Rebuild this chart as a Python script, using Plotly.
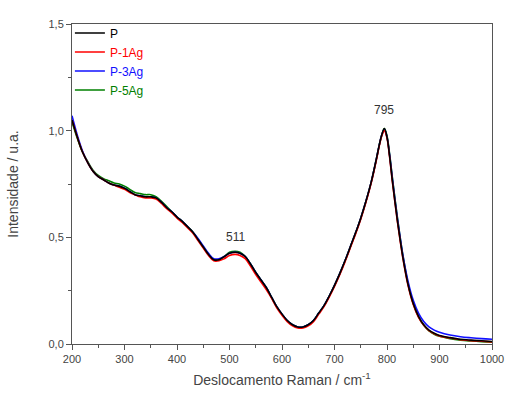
import plotly.graph_objects as go

raman_shift = [200, 210, 220, 230, 240, 250, 260, 270, 280, 290, 300, 310, 320, 330, 340, 350,
               360, 370, 380, 390, 400, 410, 420, 430, 440, 450, 460, 470, 480, 490, 500, 511,
               520, 530, 540, 550, 560, 570, 580, 590, 600, 610, 620, 630, 640, 650, 660, 670,
               680, 690, 700, 710, 720, 730, 740, 750, 760, 770, 780, 785, 790, 795, 800, 805,
               810, 815, 820, 825, 830, 840, 850, 860, 870, 880, 890, 900, 920, 940, 960, 980, 1000]

int_P = [1.05, 0.97, 0.90, 0.85, 0.81, 0.785, 0.77, 0.755, 0.745, 0.74, 0.73, 0.715, 0.70, 0.695, 0.69, 0.69,
         0.685, 0.665, 0.64, 0.62, 0.595, 0.575, 0.55, 0.525, 0.49, 0.455, 0.42, 0.395, 0.395, 0.41, 0.425, 0.43,
         0.425, 0.41, 0.375, 0.335, 0.30, 0.265, 0.22, 0.175, 0.14, 0.11, 0.09, 0.08, 0.08, 0.09, 0.11, 0.145,
         0.18, 0.225, 0.275, 0.33, 0.39, 0.455, 0.52, 0.59, 0.67, 0.76, 0.87, 0.93, 0.98, 1.01, 0.97, 0.88,
         0.77, 0.67, 0.575, 0.49, 0.41, 0.28, 0.19, 0.13, 0.09, 0.065, 0.05, 0.04, 0.03, 0.022, 0.018, 0.015, 0.012]

int_P1Ag = [1.05, 0.97, 0.90, 0.85, 0.81, 0.785, 0.77, 0.755, 0.745, 0.735, 0.725, 0.71, 0.70, 0.69, 0.685, 0.685,
            0.68, 0.66, 0.635, 0.615, 0.59, 0.57, 0.545, 0.52, 0.485, 0.45, 0.415, 0.39, 0.39, 0.40, 0.415, 0.42,
            0.415, 0.40, 0.365, 0.325, 0.29, 0.255, 0.215, 0.17, 0.135, 0.105, 0.085, 0.075, 0.075, 0.085, 0.105, 0.14,
            0.175, 0.22, 0.27, 0.325, 0.385, 0.45, 0.515, 0.585, 0.665, 0.755, 0.865, 0.925, 0.975, 1.0, 0.965, 0.875,
            0.765, 0.665, 0.57, 0.485, 0.405, 0.275, 0.185, 0.125, 0.088, 0.063, 0.048, 0.038, 0.028, 0.02, 0.016, 0.013, 0.01]

int_P3Ag = [1.07, 0.98, 0.905, 0.85, 0.81, 0.785, 0.77, 0.755, 0.745, 0.74, 0.73, 0.715, 0.70, 0.695, 0.69, 0.69,
            0.685, 0.665, 0.64, 0.62, 0.595, 0.575, 0.55, 0.525, 0.495, 0.46, 0.425, 0.40, 0.40, 0.41, 0.425, 0.43,
            0.425, 0.41, 0.375, 0.335, 0.30, 0.265, 0.22, 0.175, 0.14, 0.11, 0.09, 0.08, 0.08, 0.09, 0.11, 0.145,
            0.18, 0.225, 0.275, 0.33, 0.39, 0.455, 0.52, 0.59, 0.67, 0.76, 0.87, 0.93, 0.98, 1.005, 0.97, 0.885,
            0.78, 0.68, 0.585, 0.50, 0.42, 0.295, 0.205, 0.145, 0.105, 0.08, 0.065, 0.055, 0.042, 0.034, 0.029, 0.025, 0.022]

int_P5Ag = [1.04, 0.965, 0.90, 0.855, 0.815, 0.79, 0.775, 0.765, 0.755, 0.75, 0.74, 0.725, 0.71, 0.705, 0.70, 0.70,
            0.69, 0.67, 0.645, 0.62, 0.595, 0.575, 0.55, 0.525, 0.49, 0.455, 0.42, 0.395, 0.395, 0.41, 0.43, 0.435,
            0.43, 0.41, 0.375, 0.335, 0.30, 0.265, 0.22, 0.175, 0.14, 0.11, 0.09, 0.08, 0.08, 0.09, 0.11, 0.145,
            0.18, 0.225, 0.275, 0.33, 0.39, 0.455, 0.52, 0.59, 0.67, 0.76, 0.87, 0.93, 0.98, 1.01, 0.975, 0.89,
            0.785, 0.685, 0.59, 0.50, 0.42, 0.285, 0.19, 0.128, 0.088, 0.062, 0.046, 0.036, 0.025, 0.018, 0.014, 0.011, 0.009]

series = [("P", int_P, "#000000"), ("P-1Ag", int_P1Ag, "#ff0000"),
          ("P-3Ag", int_P3Ag, "#1010ff"), ("P-5Ag", int_P5Ag, "#008000")]

peak_labels = ["511", "795"]
peak_x = [511, 795]
peak_y = [0.50, 1.095]

fig = go.Figure()
for name, ys, col in series:
    fig.add_trace(go.Scatter(
        x=raman_shift, y=ys, mode="lines", line=dict(color=col, width=1.6, shape="spline"),
        name=f"<span style='color:{col}'>{name}</span>"))
# draw in reverse so P ends on top; legend order reversed back
fig.data = tuple(reversed(fig.data))

for lab, px, py in zip(peak_labels, peak_x, peak_y):
    fig.add_annotation(x=px, y=py, text=lab, showarrow=False,
                       font=dict(size=12, color="#333333"))

axis_common = dict(showline=True, linecolor="#555555", linewidth=1, mirror=True,
                   ticks="outside", ticklen=5, tickcolor="#555555", showgrid=False,
                   zeroline=False, automargin=False,
                   tickfont=dict(size=11, color="#444444"))

fig.update_layout(
    width=505, height=395,
    margin=dict(l=72, r=13, t=24, b=51),
    paper_bgcolor="white", plot_bgcolor="white",
    font=dict(family="Liberation Sans, Arial, sans-serif", color="#444444"),
    separators=",.",
    legend=dict(x=-0.005, y=1.017, xanchor="left", yanchor="top", traceorder="reversed",
                bgcolor="rgba(0,0,0,0)", font=dict(size=12), itemwidth=30,
                tracegroupgap=0),
    xaxis=dict(range=[200, 1000], dtick=100, tick0=200,
               minor=dict(ticks="outside", dtick=50, ticklen=3, tickcolor="#555555"),
               title=dict(text="Deslocamento Raman / cm<sup>-1</sup>", font=dict(size=14), standoff=10),
               **axis_common),
    yaxis=dict(range=[0, 1.5], dtick=0.5, tickformat=".1f",
               minor=dict(ticks="outside", dtick=0.25, ticklen=3, tickcolor="#555555"),
               title=dict(text="Intensidade / u.a.", font=dict(size=14), standoff=26),
               **axis_common),
)

fig.write_html("out.html")
